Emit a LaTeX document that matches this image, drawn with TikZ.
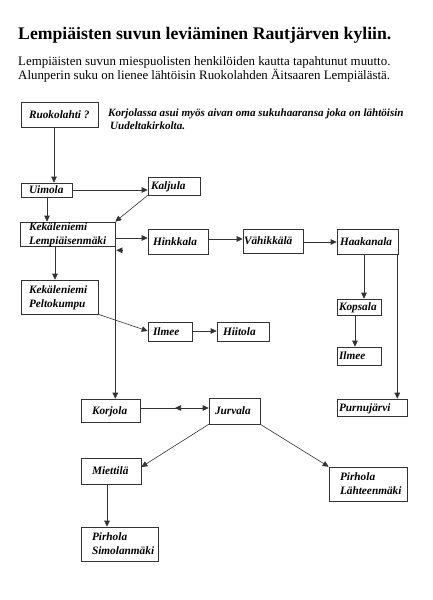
\documentclass[tikz,border=0pt]{standalone}
\usepackage{fontspec}
\setmainfont{Liberation Serif}
\usetikzlibrary{arrows.meta,calc}
\tikzset{
  box/.style={draw=black!80, line width=0.6pt, inner sep=0pt, font=\fontsize{11.3}{14}\selectfont\bfseries\itshape},
  arr/.style={draw=black!80, line width=0.6pt, -{Triangle[length=6pt,width=5.5pt]}},
  titletext/.style={inner sep=0pt, anchor=base west, font=\fontsize{17.7}{20}\selectfont\bfseries},
  subtext/.style={inner sep=0pt, anchor=base west, font=\fontsize{12.9}{15}\selectfont},
  notetext/.style={inner sep=0pt, anchor=base west, font=\fontsize{11.1}{13}\selectfont\bfseries\itshape}
}
% name, x1, y1, x2, y2, text offset, text
\newcommand\bx[7]{%
  \node[box, minimum width={(#4-#2)*1pt}, minimum height={(#5-#3)*1pt}]
    (#1) at ({(#2+#4)/2},{(#3+#5)/2})
    {\makebox[\dimexpr #4pt-#2pt\relax][l]{\hspace{#6pt}\raisebox{-3.6pt}[0pt][0pt]{\begin{tabular}{@{}l@{}}#7\end{tabular}}}};}
\begin{document}
\begin{tikzpicture}[x=1pt,y=-1pt]
\useasboundingbox[fill=white] (0,0) rectangle (432,600);
% texts
\node[titletext] (title) at (18,39) {Lempiäisten suvun leviäminen Rautjärven kyliin.};
\node[subtext] (sub1) at (18,65) {Lempiäisten suvun miespuolisten henkilöiden kautta tapahtunut muutto.};
\node[subtext] (sub2) at (18,79) {Alunperin suku on lienee lähtöisin Ruokolahden Äitsaaren Lempiälästä.};
\node[notetext] (note1) at (108,116) {Korjolassa asui myös aivan oma sukuhaaransa joka on lähtöisin};
\node[notetext] (note2) at (110,129) {Uudeltakirkolta.};
% boxes
\bx{Ruok}{21}{102}{98}{127}{8}{Ruokolahti ?}
\bx{Uim}{21}{183}{72}{197}{8}{Uimola}
\bx{Kal}{148}{177}{200}{195}{3}{Kaljula}
\bx{KekL}{20}{222}{115}{246}{9}{Kekäleniemi\\Lempiäisenmäki}
\bx{Hink}{148}{229}{208}{254}{5}{Hinkkala}
\bx{Vah}{243}{229}{303}{253}{1}{Vähikkälä}
\bx{Haak}{337}{229}{398}{254}{3}{Haakanala}
\bx{Kops}{337}{299}{381}{315}{2}{Kopsala}
\bx{IlmR}{337}{347}{381}{365}{2}{Ilmee}
\bx{Purn}{337}{399}{407}{416}{2}{Purnujärvi}
\bx{Pelto}{21}{280}{98}{314}{8}{Kekäleniemi\\Peltokumpu}
\bx{IlmM}{148}{322}{192}{341}{5}{Ilmee}
\bx{Hiit}{217}{322}{269}{341}{6}{Hiitola}
\bx{Korj}{81}{399}{140}{422}{11}{Korjola}
\bx{Jurv}{209}{398}{260}{424}{6}{Jurvala}
\bx{Miet}{81}{458}{141}{484}{11}{Miettilä}
\bx{PirS}{81}{527}{158}{561}{11}{Pirhola\\Simolanmäki}
\bx{PirL}{329}{467}{407}{501}{11}{Pirhola\\Lähteenmäki}
% connectors
\draw[arr] (Ruok.south -| 54,0) -- (Uim.north -| 54,0);
\draw[arr] (Uim.east |- 0,190) -- (Kal.west |- 0,190);
\draw[arr] (Uim.south -| 47,0) -- (KekL.north -| 47,0);
\draw[arr] (Kal.south west) -- (KekL.north east);
\draw[arr] (KekL.east |- 0,238) -- (Hink.west |- 0,238);
\draw[arr] ($(KekL.south east)+(7,4)$) -- ($(KekL.south east)+(1,4)$);
\draw[arr] (KekL.north east) -- (KekL.north east |- Korj.north);
\draw[arr] (KekL.south -| 55,0) -- (Pelto.north -| 55,0);
\draw[arr] (Pelto.south east) -- (IlmM.west |- 0,331);
\draw[arr] (IlmM.east |- 0,331) -- (Hiit.west |- 0,331);
\draw[arr] (Hink.east |- 0,239) -- (Vah.west |- 0,239);
\draw[arr] (Vah.east |- 0,242) -- (Haak.west |- 0,242);
\draw[arr] (Haak.south -| 364,0) -- (Kops.north -| 364,0);
\draw[arr] (Kops.south -| 355,0) -- (IlmR.north -| 355,0);
\draw[arr] (Haak.south east) ++(-1,0) coordinate (hp) -- (hp |- Purn.north);
\draw[arr] (Korj.east |- 0,408) -- (Jurv.west |- 0,408);
\draw[arr] (182,408) -- (175,408);
\draw[arr] (Jurv.south west) -- (Miet.east |- 0,467);
\draw[arr] (Jurv.south east) -- (PirL.north west);
\draw[arr] (Miet.south -| 107,0) -- (PirS.north -| 107,0);
\end{tikzpicture}
\end{document}
